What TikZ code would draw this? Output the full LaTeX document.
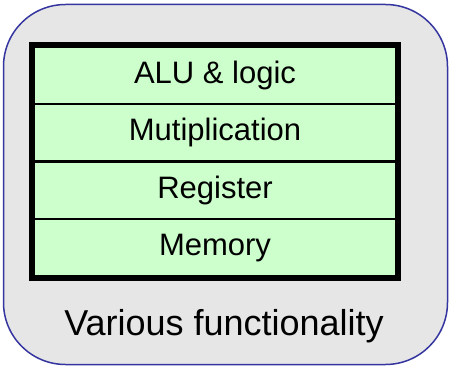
\documentclass[tikz,border=0pt]{standalone}
\usepackage{fontspec}
\setmainfont{Liberation Sans}
\definecolor{frameblue}{HTML}{3535A0}
\definecolor{rowgreen}{HTML}{CCFFCC}
\definecolor{bgdots}{HTML}{E6E6E6}
\begin{document}
\begin{tikzpicture}[x=1pt,y=-1pt,
  outerbox/.style={draw=frameblue,line width=1.5pt,fill=bgdots,rounded corners=62pt},
  rowbox/.style={draw=black,line width=2.5pt,fill=rowgreen,minimum width=364pt,minimum height=57.5pt,inner sep=0pt,font=\fontsize{31}{36}\selectfont},
  framebox/.style={draw=black,line width=6pt}
]
\useasboundingbox (0,0) rectangle (450,366);
\path[outerbox] (3.5,4.5) rectangle (447.5,364.5);
\node[rowbox] (alu) at (215,75.25) {ALU \& logic};
\node[rowbox] (mul) at (215,132.75) {Mutiplication};
\node[rowbox] (reg) at (215,190.25) {Register};
\node[rowbox] (mem) at (215,247.75) {Memory};
\draw[framebox] (alu.north west) rectangle (mem.south east);
\node[anchor=base,font=\fontsize{36}{42}\selectfont,inner sep=0pt] (label) at (224,335) {Various functionality};
\end{tikzpicture}
\end{document}
